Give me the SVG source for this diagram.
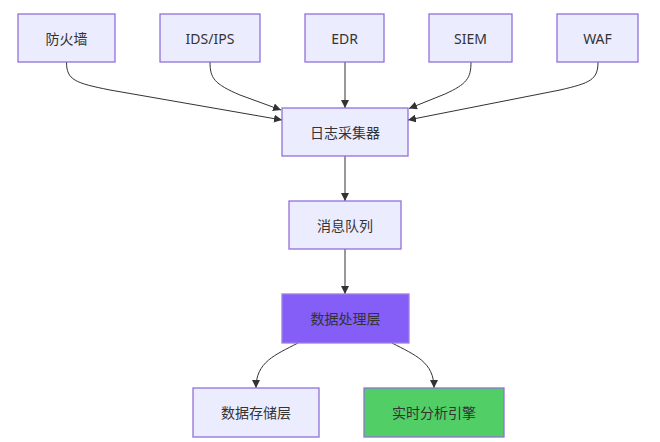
<svg xmlns="http://www.w3.org/2000/svg" width="660" height="442" viewBox="0 0 660 442">
<defs>
<style>
.node rect{fill:#ECECFF;stroke:#9370DB;stroke-width:1.3}
.node text{font-family:"Noto Sans","Noto Sans CJK SC",sans-serif;font-size:14px;fill:#333;text-anchor:middle;dominant-baseline:central}
.edges path{fill:none;stroke:#333;stroke-width:1;marker-end:url(#arrow)}
</style>
<marker id="arrow" viewBox="0 0 10 10" refX="10" refY="5" markerWidth="8" markerHeight="8" markerUnits="userSpaceOnUse" orient="auto">
<path d="M0,0 L10,5 L0,10 z" fill="#333"/>
</marker>
</defs>
<rect width="660" height="442" fill="#fff"/>
<g class="edges">
<path d="M66.5,62 C66.5,80 75,83 110,90 L282,120"/>
<path d="M210,62 C210,78 214,84 240,95 L281,110"/>
<path d="M345,62 L345,108"/>
<path d="M471,62 C471,78 467,84 445,94 L409,108.5"/>
<path d="M598,62 C598,80 590,83 560,90 L408,120"/>
<path d="M345,156 L345,201"/>
<path d="M345,249 L345,294"/>
<path d="M298,343 C275,355 256,362 256,388"/>
<path d="M392,343 C415,355 434,362 434,388"/>
</g>
<g id="fw" class="node"><rect x="18" y="14" width="97" height="48"/><text x="66.5" y="38">防火墙</text></g>
<g id="ids" class="node"><rect x="160" y="14" width="100" height="48"/><text x="210" y="38">IDS/IPS</text></g>
<g id="edr" class="node"><rect x="305" y="14" width="79" height="48"/><text x="344.5" y="38">EDR</text></g>
<g id="siem" class="node"><rect x="429" y="14" width="83" height="48"/><text x="470.5" y="38">SIEM</text></g>
<g id="waf" class="node"><rect x="557" y="14" width="81" height="48"/><text x="597.5" y="38">WAF</text></g>
<g id="collector" class="node"><rect x="282" y="108" width="126" height="48"/><text x="345" y="132">日志采集器</text></g>
<g id="mq" class="node"><rect x="289" y="201" width="112" height="48"/><text x="345" y="225">消息队列</text></g>
<g id="proc" class="node"><rect x="282" y="294" width="127" height="49" style="fill:#845ef7;stroke:#9d7ee6"/><text x="345.5" y="318.5">数据处理层</text></g>
<g id="store" class="node"><rect x="193" y="388" width="126" height="49"/><text x="256" y="412.5">数据存储层</text></g>
<g id="rt" class="node"><rect x="364" y="388" width="140" height="49" style="fill:#51cf66"/><text x="434" y="412.5">实时分析引擎</text></g>
</svg>
